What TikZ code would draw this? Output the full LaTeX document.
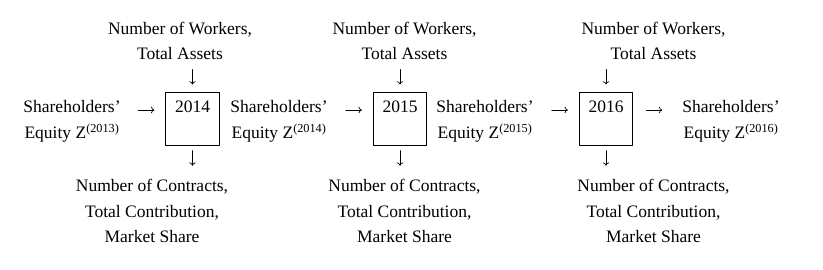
\documentclass[tikz,border=0pt]{standalone}
\usepackage{fontspec}
\setmainfont{Liberation Serif}
\usetikzlibrary{arrows.meta}

\begin{document}
\begin{tikzpicture}[x=1pt, y=-1pt, line join=round, line cap=round,
    txt/.style={inner sep=0pt, align=center, font=\fontsize{17.5}{25.7}\selectfont},
    yearbox/.style={draw, line width=0.9pt, minimum width=53.5pt, minimum height=53pt, inner sep=0pt},
    flow/.style={line width=0.7pt, -{To[length=3.2pt, width=6.4pt]}}]
  \useasboundingbox (0,0) rectangle (823,270);

  \foreach \yr/\prev/\bx/\tx/\dx/\sx in {2014/2013/192.5/180/152/72,
      2015/2014/400/404.5/404.5/279, 2016/2015/606/653.5/653.5/485} {
    \node[yearbox] (box\yr) at (\bx,118.7) {};
    \node[txt, anchor=base] (yr\yr) at (\bx,112.3) {\yr};
    \node[txt, anchor=base] (in\yr) at (\tx,60) {Number of Workers,\\Total Assets};
    \node[txt, anchor=base] (out\yr) at (\dx,242.7) {Number of Contracts,\\Total Contribution,\\Market Share};
    \node[txt, anchor=base] (eq\prev) at (\sx,138.3) {Shareholders'\\Equity Z\textsuperscript{(\prev)}};

    \draw[flow] ([yshift=22.3pt]box\yr.north) -- ([yshift=7.3pt]box\yr.north);
    \draw[flow] ([yshift=-5pt]box\yr.south) -- ([yshift=-20pt]box\yr.south);
    \draw[flow] ([xshift=-27pt]box\yr.west |- yr\yr.mid) -- ([xshift=-11pt]box\yr.west |- yr\yr.mid);
  }

  \node[txt, anchor=base] (eq2016) at (731,138.3) {Shareholders'\\Equity Z\textsuperscript{(2016)}};
  \draw[flow] ([xshift=13pt]box2016.east |- yr2016.mid) -- ([xshift=29pt]box2016.east |- yr2016.mid);
\end{tikzpicture}
\end{document}
